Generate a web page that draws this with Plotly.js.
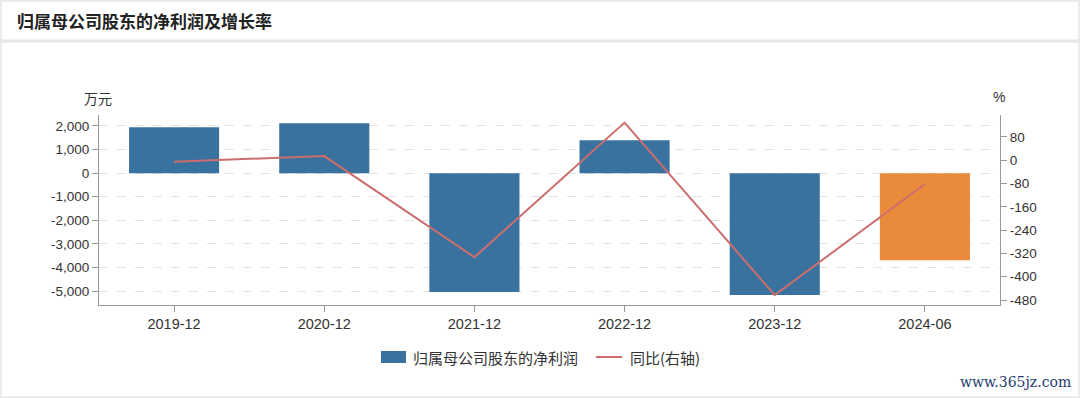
<!DOCTYPE html>
<html>
<head>
<meta charset="utf-8">
<script src="https://cdn.plot.ly/plotly-3.0.1.min.js"></script>
<style>
html,body{margin:0;padding:0;background:#fff;}
#chart{width:1080px;height:398px;}
</style>
</head>
<body>
<div id="chart"></div>
<script>
// Data
const categories = ["2019-12", "2020-12", "2021-12", "2022-12", "2023-12", "2024-06"];
const netProfit = [1950, 2120, -5040, 1400, -5170, -3690];   // 万元
const yoyGrowth = [-5, 14, -333, 129, -463, -82];            // %
const leftTickVals = [2000, 1000, 0, -1000, -2000, -3000, -4000, -5000];
const leftTickText = ["2,000", "1,000", "0", "-1,000", "-2,000", "-3,000", "-4,000", "-5,000"];
const rightTickVals = [80, 0, -80, -160, -240, -320, -400, -480];
const rightTickText = ["80", "0", "-80", "-160", "-240", "-320", "-400", "-480"];
const seriesNames = ["归属母公司股东的净利润", "同比(右轴)"];

const W = 1080, H = 398;
const L = 99, R = 1000, T = 115, B = 305;
const px = x => (x - L) / (R - L);
const py = y => (B - y) / (B - T);

const fontFam = '"Liberation Sans", Arial, "Noto Sans CJK SC", sans-serif';
const cjkFam = '"Noto Sans CJK SC", "Liberation Sans", sans-serif';

const blue = "#3a729f", orange = "#e98b3a", red = "#cc6e6e";
const barColors = categories.map((c, i) => i === categories.length - 1 ? orange : blue);

const traces = [
  {
    type: "bar",
    x: categories,
    y: netProfit,
    name: seriesNames[0],
    marker: {color: barColors},
    width: 0.6,
    yaxis: "y"
  },
  {
    type: "scatter",
    mode: "lines",
    x: categories,
    y: yoyGrowth,
    name: seriesNames[1],
    line: {color: red, width: 2},
    yaxis: "y2"
  }
];

const legY = py(357);
const layout = {
  width: W, height: H,
  margin: {l: L, r: W - R, t: T, b: H - B, pad: 0},
  paper_bgcolor: "#ffffff",
  plot_bgcolor: "#ffffff",
  showlegend: false,
  title: {
    text: "<b>归属母公司股东的净利润及增长率</b>",
    x: 17 / W, xanchor: "left", xref: "container",
    y: 1 - 22 / H, yanchor: "middle", yref: "container",
    font: {family: cjkFam, size: 17, color: "#222"}
  },
  font: {family: fontFam, size: 13, color: "#333"},
  xaxis: {
    type: "category",
    showline: true, linecolor: "#999", linewidth: 1,
    ticks: "outside", ticklen: 6, tickcolor: "#999",
    showgrid: false,
    tickfont: {family: fontFam, size: 14.5, color: "#333"},
    fixedrange: true
  },
  yaxis: {
    range: [-5593, 2466],
    tickvals: leftTickVals, ticktext: leftTickText,
    showline: true, linecolor: "#999", linewidth: 1,
    ticks: "outside", ticklen: 6, tickcolor: "#999",
    showgrid: true, gridcolor: "#e2e2e2", griddash: "dash", gridwidth: 1,
    zeroline: false,
    tickfont: {family: fontFam, size: 13.5, color: "#333"},
    fixedrange: true
  },
  yaxis2: {
    overlaying: "y", side: "right",
    range: [-497, 155],
    tickvals: rightTickVals, ticktext: rightTickText,
    showline: true, linecolor: "#999", linewidth: 1,
    ticks: "outside", ticklen: 6, tickcolor: "#999",
    showgrid: false, zeroline: false,
    tickfont: {family: fontFam, size: 13.5, color: "#333"},
    fixedrange: true
  },
  annotations: [
    {text: "万元", xref: "paper", yref: "paper", x: px(98), y: py(98), showarrow: false,
     xanchor: "center", yanchor: "middle", font: {family: cjkFam, size: 14, color: "#333"}},
    {text: "%", xref: "paper", yref: "paper", x: px(999), y: py(97), showarrow: false,
     xanchor: "center", yanchor: "middle", font: {family: fontFam, size: 14, color: "#333"}},
    {text: seriesNames[0], xref: "paper", yref: "paper", x: px(411), y: legY, showarrow: false,
     xanchor: "left", yanchor: "middle", font: {family: cjkFam, size: 15, color: "#333"}},
    {text: seriesNames[1], xref: "paper", yref: "paper", x: px(628), y: legY, showarrow: false,
     xanchor: "left", yanchor: "middle", font: {family: cjkFam, size: 15, color: "#333"}},
    {text: "www.365jz.com", xref: "paper", yref: "paper", x: px(1073), y: py(382), showarrow: false,
     xanchor: "right", yanchor: "middle", font: {family: '"DejaVu Serif", serif', size: 14, color: "#1f3c6e"}}
  ],
  shapes: [
    {type: "line", xref: "paper", yref: "paper", x0: px(0), x1: px(W), y0: py(41), y1: py(41),
     line: {color: "#e6e6e6", width: 3}},
    {type: "rect", xref: "paper", yref: "paper", x0: px(1), x1: px(W - 1), y0: py(1), y1: py(H - 1),
     line: {color: "#ececec", width: 2}, fillcolor: "rgba(0,0,0,0)", layer: "below"},
    {type: "rect", xref: "paper", yref: "paper", x0: px(381), x1: px(406), y0: py(351), y1: py(363),
     line: {width: 0}, fillcolor: blue},
    {type: "line", xref: "paper", yref: "paper", x0: px(596), x1: px(622), y0: legY, y1: legY,
     line: {color: red, width: 2}}
  ]
};

Plotly.newPlot("chart", traces, layout, {displayModeBar: false, staticPlot: true});
</script>
</body>
</html>
